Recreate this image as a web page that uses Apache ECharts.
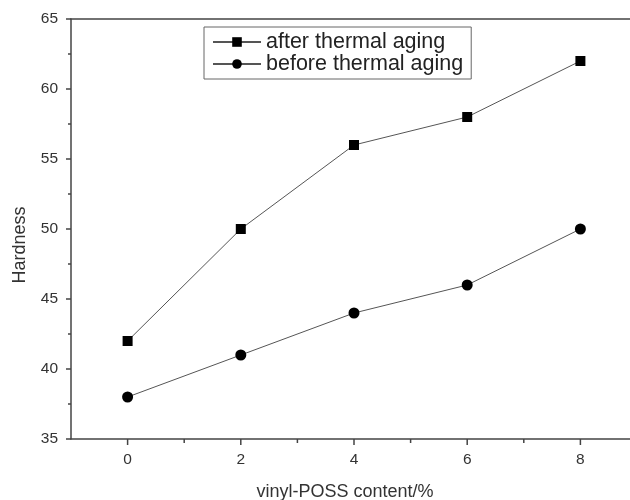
<!DOCTYPE html>
<html><head><meta charset="utf-8">
<script src="https://cdn.jsdelivr.net/npm/echarts@6/dist/echarts.min.js"></script>
<style>html,body{margin:0;padding:0;background:#fff}#c{width:630px;height:500px}</style>
</head><body><div id="c"></div>
<script>
const xValues = [0, 2, 4, 6, 8];
const afterAging = [42, 50, 56, 58, 62];
const beforeAging = [38, 41, 44, 46, 50];
const seriesNames = ['after thermal aging', 'before thermal aging'];
const xTitle = 'vinyl-POSS content/%';
const yTitle = 'Hardness';

const font = 'Liberation Sans, Arial, sans-serif';
const chart = echarts.init(document.getElementById('c'), null, {renderer: 'canvas'});
chart.setOption({
  animation: false,
  grid: {left: 71, top: 19, right: -7, bottom: 61, containLabel: false, outerBoundsMode: 'none'},
  legend: {
    orient: 'vertical', left: 204, top: 27, padding: [4, 8, 4, 8],
    itemGap: 0, itemWidth: 48, itemHeight: 12,
    borderColor: '#666', borderWidth: 1,
    textStyle: {fontFamily: font, fontSize: 21.5, color: '#222'},
    data: seriesNames
  },
  xAxis: [{
    type: 'value', min: -1, max: 9, interval: 2,
    name: xTitle, nameLocation: 'middle', nameGap: 44,
    nameTextStyle: {fontFamily: font, fontSize: 18, color: '#333', padding: [0, 18, 0, 0]},
    axisLine: {onZero: false, lineStyle: {color: '#444', width: 1.5}},
    axisTick: {show: false},
    splitLine: {show: false},
    axisLabel: {show: false}
  }, {
    type: 'value', min: -1, max: 9, position: 'top',
    axisLine: {onZero: false, lineStyle: {color: '#444', width: 1.5}},
    axisTick: {show: false}, axisLabel: {show: false}, splitLine: {show: false}
  }],
  yAxis: {
    type: 'value', min: 35, max: 65, interval: 5,
    name: yTitle, nameLocation: 'middle', nameGap: 42,
    nameTextStyle: {fontFamily: font, fontSize: 18, color: '#333', padding: [0, 32, 0, 0]},
    axisLine: {onZero: false, lineStyle: {color: '#444', width: 1.5}},
    axisTick: {show: true, inside: false, length: 5, lineStyle: {color: '#444', width: 1.5}},
    minorTick: {show: true, splitNumber: 2, length: 3, lineStyle: {color: '#444', width: 1.5}},
    splitLine: {show: false},
    axisLabel: {fontFamily: font, fontSize: 15.5, color: '#333', margin: 13}
  },
  series: [{
    name: seriesNames[0], type: 'line', xAxisIndex: 0,
    data: xValues.map((x, i) => [x, afterAging[i]]),
    symbol: 'rect', symbolSize: 10,
    lineStyle: {color: '#555', width: 1},
    itemStyle: {color: '#000'}
  }, {
    name: seriesNames[1], type: 'line', xAxisIndex: 0,
    data: xValues.map((x, i) => [x, beforeAging[i]]),
    symbol: 'circle', symbolSize: 11,
    lineStyle: {color: '#555', width: 1},
    itemStyle: {color: '#000'}
  }, {
    type: 'custom', xAxisIndex: 0, silent: true,
    data: [0,1,2,3,4,5,6,7,8].map(v => [v]),
    renderItem: function (params, api) {
      const p = api.coord([api.value(0), 35]);
      const major = api.value(0) % 2 === 0;
      return {type: 'line', shape: {x1: p[0], y1: p[1], x2: p[0], y2: p[1] + (major ? 6 : 4)},
        style: {stroke: '#444', lineWidth: 1.5}};
    }
  }, {
    type: 'custom', xAxisIndex: 0, silent: true,
    data: xValues.map(v => [v]),
    renderItem: function (params, api) {
      const p = api.coord([api.value(0), 35]);
      return {type: 'text', x: p[0], y: p[1] + 13,
        style: {text: String(api.value(0)), fontFamily: font, fontSize: 15.5, fill: '#333', align: 'center', verticalAlign: 'top'}};
    }
  }]
});
</script></body></html>
